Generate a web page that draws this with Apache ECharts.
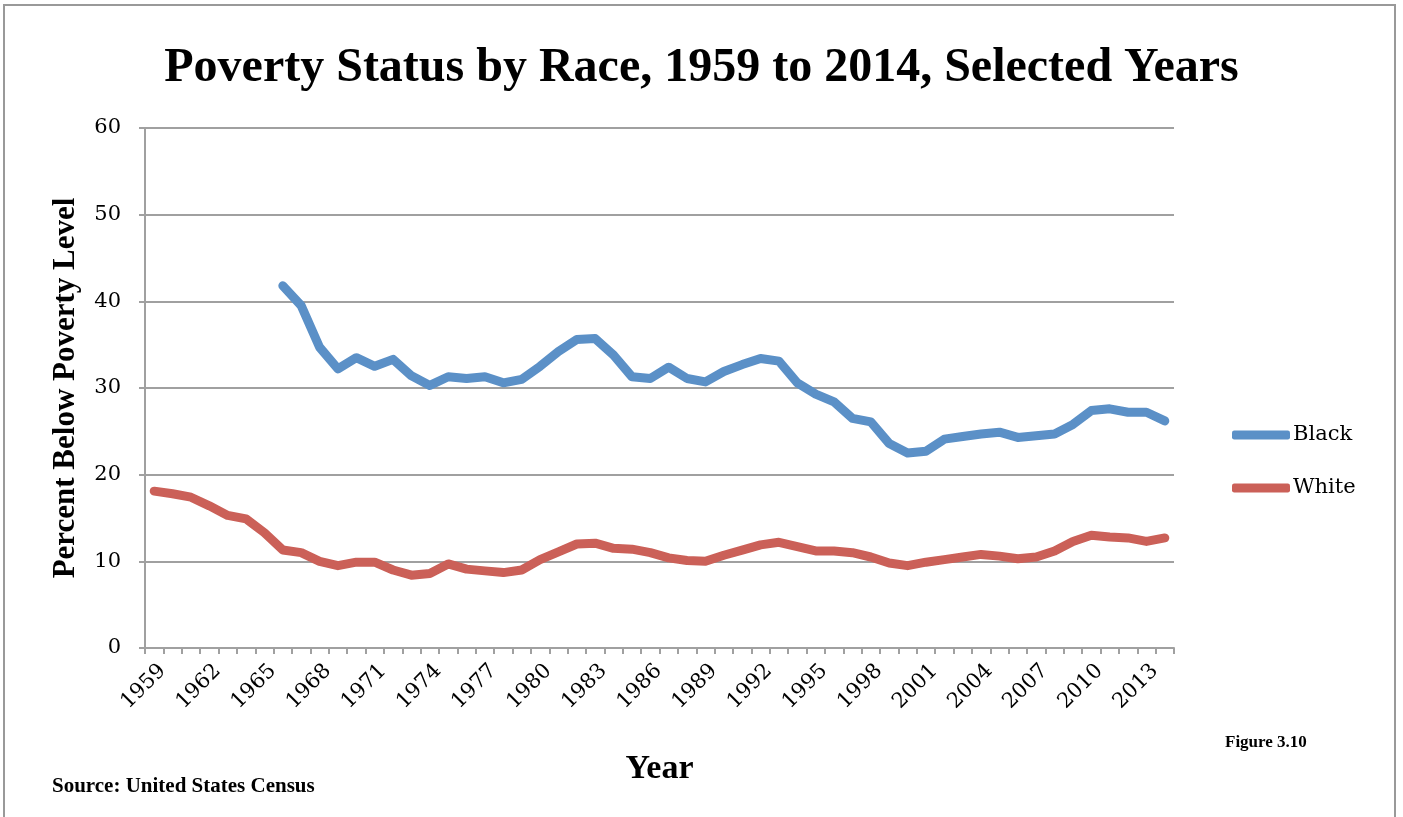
<!DOCTYPE html>
<html>
<head>
<meta charset="utf-8">
<title>Poverty Status by Race</title>
<script src="https://cdn.jsdelivr.net/npm/echarts@6/dist/echarts.min.js"></script>
<style>
  html, body { margin: 0; padding: 0; background: #fff; }
  #chart { width: 1403px; height: 817px; }
</style>
</head>
<body>
<div id="chart"></div>
<script>
// years on the x axis
var years = [
  '1959', '1960', '1961', '1962', '1963', '1964', '1965', '1966', '1967', '1968',
  '1969', '1970', '1971', '1972', '1973', '1974', '1975', '1976', '1977', '1978',
  '1979', '1980', '1981', '1982', '1983', '1984', '1985', '1986', '1987', '1988',
  '1989', '1990', '1991', '1992', '1993', '1994', '1995', '1996', '1997', '1998',
  '1999', '2000', '2001', '2002', '2003', '2004', '2005', '2006', '2007', '2008',
  '2009', '2010', '2011', '2012', '2013', '2014'
];

// percent below poverty level, no figures for Black before 1966
var black = [
  null, null, null, null, null, null, null, 41.8, 39.5, 34.7,
  32.2, 33.5, 32.5, 33.3, 31.4, 30.3, 31.3, 31.1, 31.3, 30.6,
  31.0, 32.5, 34.2, 35.6, 35.7, 33.8, 31.3, 31.1, 32.4, 31.1,
  30.7, 31.9, 32.7, 33.4, 33.1, 30.6, 29.3, 28.4, 26.5, 26.1,
  23.6, 22.5, 22.7, 24.1, 24.4, 24.7, 24.9, 24.3, 24.5, 24.7,
  25.8, 27.4, 27.6, 27.2, 27.2, 26.2
];

var white = [
  18.1, 17.8, 17.4, 16.4, 15.3, 14.9, 13.3, 11.3, 11.0, 10.0,
  9.5, 9.9, 9.9, 9.0, 8.4, 8.6, 9.7, 9.1, 8.9, 8.7,
  9.0, 10.2, 11.1, 12.0, 12.1, 11.5, 11.4, 11.0, 10.4, 10.1,
  10.0, 10.7, 11.3, 11.9, 12.2, 11.7, 11.2, 11.2, 11.0, 10.5,
  9.8, 9.5, 9.9, 10.2, 10.5, 10.8, 10.6, 10.3, 10.5, 11.2,
  12.3, 13.0, 12.8, 12.7, 12.3, 12.7
];

var yTicks = [0, 10, 20, 30, 40, 50, 60];

var serif = '"Liberation Serif", "Times New Roman", serif';
var labelFont = '"DejaVu Serif", serif';
var gray = '#a0a0a0';

var chart = echarts.init(document.getElementById('chart'));

chart.setOption({
  backgroundColor: '#fff',
  animation: false,
  title: {
    text: 'Poverty Status by Race, 1959 to 2014, Selected Years',
    left: 'center',
    top: 40,
    textStyle: { fontFamily: serif, fontWeight: 'bold', fontSize: 48, color: '#000' }
  },
  legend: {
    orient: 'vertical',
    left: 1227,
    top: 418,
    itemWidth: 58,
    itemHeight: 9,
    itemGap: 29,
    icon: 'roundRect',
    textStyle: { fontFamily: labelFont, fontSize: 21, color: '#000', lineHeight: 24, padding: [0, 0, 0, -2] },
    data: ['Black', 'White']
  },
  grid: { left: 145, right: 229, top: 128, bottom: 169, containLabel: false },
  xAxis: {
    type: 'category',
    data: years,
    boundaryGap: true,
    name: 'Year',
    nameLocation: 'middle',
    nameGap: 104,
    nameTextStyle: { fontFamily: serif, fontWeight: 'bold', fontSize: 34, color: '#000' },
    axisLine: { lineStyle: { color: gray, width: 2 } },
    axisTick: { show: true, interval: 0, length: 6, lineStyle: { color: gray, width: 2 } },
    axisLabel: {
      interval: 2,
      rotate: 45,
      margin: 28,
      align: 'center',
      verticalAlign: 'middle',
      padding: [0, 30, 0, 0],
      fontFamily: labelFont,
      fontSize: 21,
      color: '#000'
    },
    splitLine: { show: false }
  },
  yAxis: {
    type: 'value',
    min: yTicks[0],
    max: yTicks[yTicks.length - 1],
    interval: 10,
    name: 'Percent Below Poverty Level',
    nameLocation: 'middle',
    nameGap: 64,
    nameTextStyle: { fontFamily: serif, fontWeight: 'bold', fontSize: 31, color: '#000' },
    axisLine: { show: true, lineStyle: { color: gray, width: 2 } },
    axisTick: { show: true, length: 6, lineStyle: { color: gray, width: 2 } },
    axisLabel: { margin: 24, padding: [12, 0, 0, 0], fontFamily: labelFont, fontSize: 21, color: '#000' },
    splitLine: { show: true, lineStyle: { color: gray, width: 2 } }
  },
  series: [
    {
      name: 'Black',
      type: 'line',
      data: black,
      symbol: 'none',
      color: '#5b90c7',
      lineStyle: { width: 9, color: '#5b90c7', cap: 'round', join: 'round' }
    },
    {
      name: 'White',
      type: 'line',
      data: white,
      symbol: 'none',
      color: '#cb6058',
      lineStyle: { width: 9, color: '#cb6058', cap: 'round', join: 'round' }
    }
  ],
  graphic: [
    {
      type: 'rect',
      shape: { x: 4, y: 5, width: 1391, height: 900 },
      style: { fill: 'none', stroke: '#999', lineWidth: 2 },
      silent: true
    },
    {
      type: 'text',
      left: 1225,
      top: 734,
      style: { text: 'Figure 3.10', font: 'bold 17px ' + serif, fill: '#000' }
    },
    {
      type: 'text',
      left: 52,
      top: 776,
      style: { text: 'Source: United States Census', font: 'bold 21px ' + serif, fill: '#000' }
    }
  ]
});
</script>
</body>
</html>
